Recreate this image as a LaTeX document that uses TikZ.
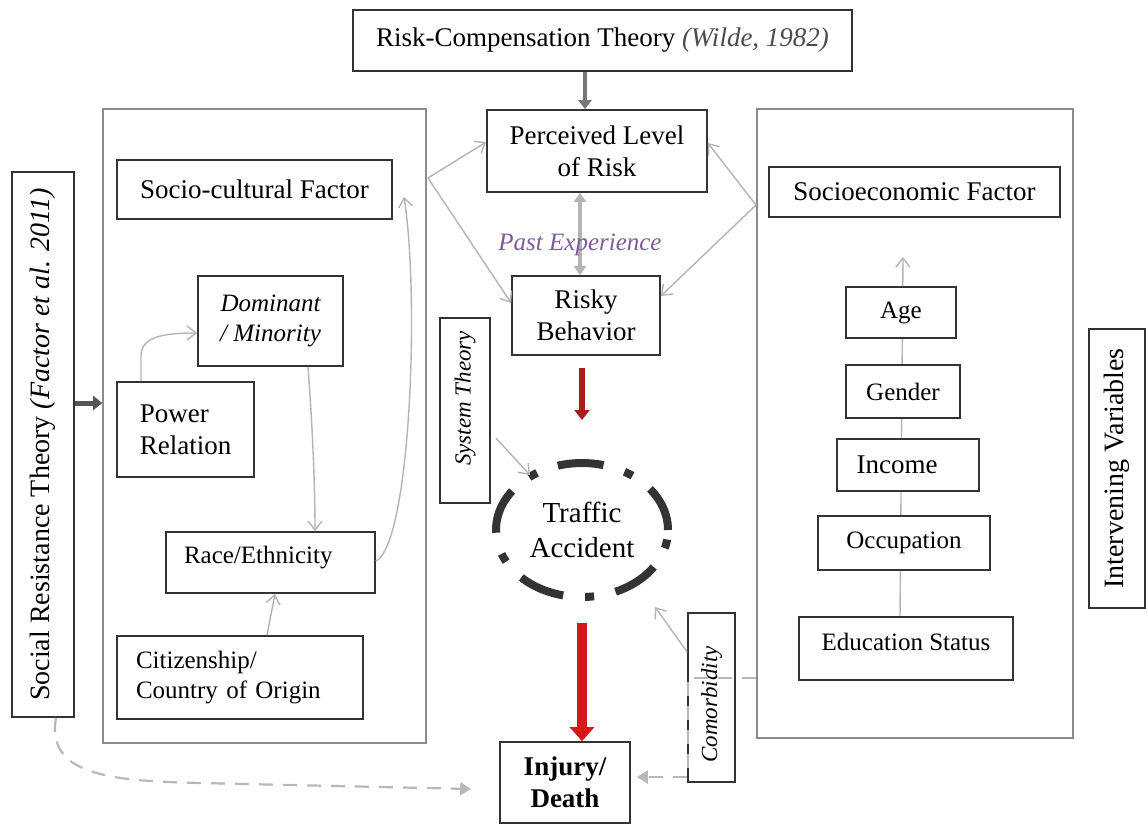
\documentclass[tikz,border=0pt]{standalone}
\usepackage{fontspec}
\setmainfont{Liberation Serif}
\usetikzlibrary{arrows.meta,shapes.geometric,calc}
\pgfdeclarelayer{bg}
\pgfsetlayers{bg,main}
\newcommand\fA{\fontsize{27}{32}\selectfont}
\newcommand\fB{\fontsize{25}{30}\selectfont}
\newcommand\fC{\fontsize{23}{28}\selectfont}
\newcommand\fD{\fontsize{28}{33}\selectfont}
\definecolor{boxline}{HTML}{333333}
\definecolor{frameline}{HTML}{8C8C8C}
\definecolor{lightarrow}{HTML}{B4B4B4}
\definecolor{darkarrow}{HTML}{555555}
\definecolor{redA}{HTML}{A81C1C}
\definecolor{redB}{HTML}{D81818}
\definecolor{purpletext}{HTML}{7E5B9C}
\definecolor{dashgray}{HTML}{B8B8B8}
\tikzset{
  box/.style={draw=boxline, line width=1.7pt, fill=white, inner sep=0pt, align=center, font=\fA},
  framebox/.style={draw=frameline, line width=1.6pt, inner sep=0pt},
  lightconn/.style={draw=lightarrow, line width=1.4pt, -{Straight Barb[length=9pt,width=14pt]}},
  dashconn/.style={draw=dashgray, line width=2.2pt, dash pattern=on 14pt off 10pt, -{Triangle[length=11pt,width=13pt]}},
  redconn/.style={line width=6pt, -{Triangle[length=10pt,width=15pt]}},
}
\begin{document}
\begin{tikzpicture}[x=1pt,y=-1pt]
\useasboundingbox (0,0) rectangle (1148,825);
\begin{pgfonlayer}{bg}
\fill[white] (0,0) rectangle (1148,825);
\end{pgfonlayer}

% top
\node[box, minimum width=499, minimum height=61] (rct) at (602.5,40.5)
  {Risk-Compensation Theory \textcolor{black!70}{\textit{(Wilde, 1982)}}};

% frames
\node[framebox, minimum width=323, minimum height=634] (lbox) at (264.5,426) {};
\node[framebox, minimum width=316, minimum height=629] (rbox) at (915,423.5) {};

% center column
\node[box, minimum width=220, minimum height=82] (per) at (597,151) {Perceived Level\\of Risk};
\node[box, minimum width=148, minimum height=79] (risky) at (586,315.5) {Risky\\Behavior};
\node[draw=black!80, ellipse, line width=8pt, dash pattern=on 46pt off 22pt on 9pt off 22pt,
      minimum width=172, minimum height=134, align=center, font=\fontsize{29}{35}\selectfont, inner sep=0pt]
      (acc) at (582,530) {Traffic\\Accident};
\node[box, minimum width=130, minimum height=81, font=\fA\bfseries] (inj) at (565,782.5) {Injury/\\Death};
\node[box, rotate=90, minimum width=185, minimum height=50, font=\fC\itshape] (sys) at (465,410.5) {\hspace*{24pt}System Theory};
\node[box, rotate=90, minimum width=169, minimum height=47, font=\fC\itshape] (com) at (711.5,697.5) {\hspace*{-14pt}Comorbidity};

% left column
\node[box, rotate=90, minimum width=545, minimum height=62, font=\fD] (srt) at (43,444.5)
  {Social Resistance Theory \textit{(Factor et al. 2011)}};
\node[box, minimum width=275, minimum height=59] (socio) at (254.5,189.5) {Socio-cultural Factor};
\node[box, minimum width=145, minimum height=90, font=\fB\itshape] (dom) at (270.5,321) {Dominant\\/ Minority};
\node[box, minimum width=137, minimum height=95, align=left] (pow) at (185.5,429.5) {Power\\Relation};
\node[box, minimum width=209, minimum height=61, align=left, text width=173, inner xsep=18pt,
      text depth=16pt, font=\fB] (race) at (270.5,562.5) {Race/Ethnicity};
\node[box, minimum width=246, minimum height=83, align=left, text width=208, inner xsep=19pt,
      font=\fB] (cit) at (240,677.5) {Citizenship/\\Country of Origin};

% right column
\node[box, minimum width=291, minimum height=50] (soe) at (914.5,192) {Socioeconomic Factor};
\node[box, minimum width=110, minimum height=51, font=\fB] (age) at (901,312.5) {Age};
\node[box, minimum width=114, minimum height=53, font=\fB] (gen) at (903,391.5) {Gender};
\node[box, minimum width=142, minimum height=52, font=\fA] (inc) at (908,465) {\hspace*{-22pt}Income};
\node[box, minimum width=172, minimum height=54, font=\fB] (occ) at (904,543) {Occupation};
\node[box, minimum width=214, minimum height=63, font=\fB, text depth=14pt] (edu) at (906,648.5) {Education Status};
\node[box, rotate=90, minimum width=279, minimum height=56, font=\fD] (iv) at (1117,468.5) {Intervening Variables};

% connectors behind boxes
\begin{pgfonlayer}{bg}
  \coordinate (seTop) at (903,257);
  \draw[lightconn] (edu.north -| 900,0) -- (seTop);
\end{pgfonlayer}

% top arrow
\draw[draw=darkarrow!80, line width=4pt, -{Triangle[length=9pt,width=13pt]}] (rct.south -| 585,0) -- (per.north -| 585,0);
% perceived <-> risky
\draw[draw=lightarrow, line width=4pt, {Triangle[length=9pt,width=12pt]}-{Triangle[length=9pt,width=12pt]}]
  (per.south -| 580,0) -- (risky.north -| 580,0);
\node[font=\fB\itshape, text=purpletext, inner sep=0pt] (past) at (580,245) {Past Experience};

% left frame to centre
\coordinate (lsplit) at (428,178);
\draw[lightconn] (lsplit) -- (per.west |- 0,142);
\draw[lightconn] (lsplit) -- (risky.west |- 0,303);
% right frame to centre
\coordinate (rsplit) at (756,205);
\draw[lightconn] (rsplit) -- (per.east |- 0,143);
\draw[lightconn] (rsplit) -- (risky.east |- 0,296);

% SRT to left frame
\draw[draw=darkarrow, line width=5pt, -{Triangle[length=9pt,width=14pt]}] (srt.south |- 0,403) -- (lbox.west |- 0,403);

% inside left frame
\draw[lightconn] (pow.north -| 141,0) -- (141,356) .. controls (141,338) and (160,333) .. (dom.west |- 0,333);
\draw[lightconn] (dom.south -| 308,0) .. controls (312,420) and (315,480) .. (race.north -| 315,0);
\draw[lightconn] (race.east |- 0,561) .. controls (410,545) and (420,300) .. (404,197);
\draw[lightconn] (cit.north -| 267,0) -- (race.south -| 275,0);

% red arrows
\draw[redconn, draw=redA] (risky.south -| 582,0) ++(0,12) -- (acc.north |- 0,420);
\draw[redconn, line width=10pt, draw=redB, -{Triangle[length=14pt,width=24pt]}] (acc.south |- 0,623) -- (inj.north -| 582,0);

% theory arrows
\draw[lightconn] ($(sys.south east |- 0,438)+(5,0)$) -- ($(acc.center)+(-52,-55)$);
\draw[lightconn] (com.north |- 0,652) -- ($(acc.center)+(73,77)$);

% dashed connectors
\draw[dashconn] (srt.west -| 56,0) .. controls (46,775) and (110,781) .. (200,783) -- ($(inj.west |- 0,789)+(-28,0)$);
\draw[dashconn] (rbox.west |- 0,678) -- (688,678) -- (688,777) -- ($(inj.east |- 0,777)+(6,0)$);
\end{tikzpicture}
\end{document}
